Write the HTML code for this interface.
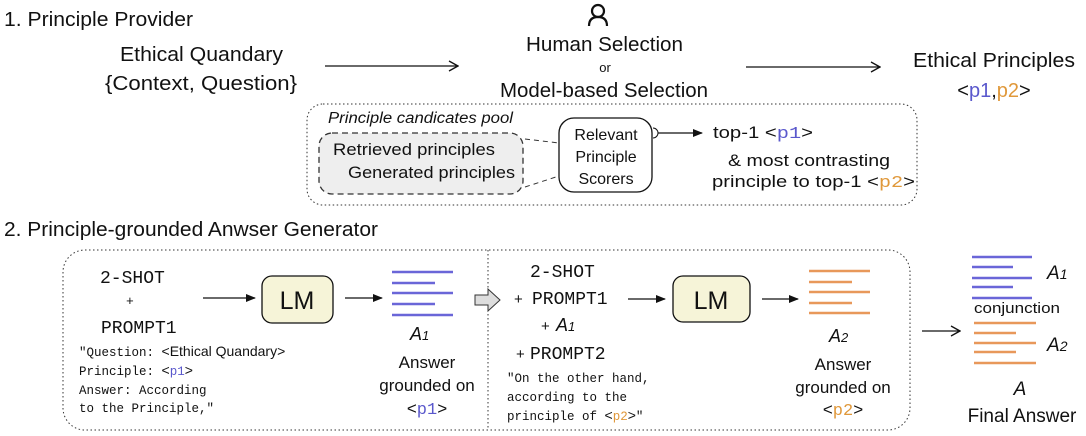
<!DOCTYPE html>
<html><head><meta charset="utf-8"><style>
body{margin:0;background:#fff}
svg{display:block}
text{font-family:"Liberation Sans",sans-serif;fill:#111}
.m{font-family:"Liberation Mono",monospace}
.b{fill:#5a58cc}.o{fill:#e0983a}
</style></head><body>
<svg width="1086" height="436" viewBox="0 0 1086 436">
<defs>
<marker id="ah" markerWidth="10" markerHeight="8" refX="9" refY="4" orient="auto" markerUnits="userSpaceOnUse"><path d="M0,0 L10,4 L0,8 Z" fill="#111"/></marker>
<marker id="oh" markerWidth="12" markerHeight="12" refX="11" refY="6" orient="auto" markerUnits="userSpaceOnUse"><path d="M2,1 L11,6 L2,11" fill="none" stroke="#111" stroke-width="1.3"/></marker>
</defs>
<text x="4" y="26" font-size="20" textLength="189" lengthAdjust="spacingAndGlyphs">1. Principle Provider</text>
<text x="120" y="61" font-size="20" textLength="163" lengthAdjust="spacingAndGlyphs">Ethical Quandary</text>
<text x="105" y="90" font-size="20" textLength="192" lengthAdjust="spacingAndGlyphs">{Context, Question}</text>
<line x1="325" y1="66" x2="458" y2="66" stroke="#111" stroke-width="1.3" marker-end="url(#oh)"/>
<circle cx="598" cy="11" r="6" fill="none" stroke="#111" stroke-width="2.2"/>
<path d="M589,26 Q589,17 598,17 Q607,17 607,26" fill="none" stroke="#111" stroke-width="2.2"/>
<text x="526" y="51" font-size="20" textLength="157" lengthAdjust="spacingAndGlyphs">Human Selection</text>
<text x="605" y="72" font-size="13" text-anchor="middle">or</text>
<text x="500" y="97" font-size="20" textLength="208" lengthAdjust="spacingAndGlyphs">Model-based Selection</text>
<line x1="746" y1="67" x2="880" y2="67" stroke="#111" stroke-width="1.3" marker-end="url(#oh)"/>
<text x="913" y="67" font-size="20" textLength="162" lengthAdjust="spacingAndGlyphs">Ethical Principles</text>
<text x="994" y="97" font-size="20" text-anchor="middle">&lt;<tspan class="b">p1</tspan>,<tspan class="o">p2</tspan>&gt;</text>

<rect x="307" y="104" width="610" height="101" rx="16" fill="none" stroke="#333" stroke-width="1" stroke-dasharray="1.5,2.5"/>
<text x="328" y="123" font-size="15.5" font-style="italic" textLength="185" lengthAdjust="spacingAndGlyphs">Principle candicates pool</text>
<rect x="319" y="133" width="204" height="61" rx="13" fill="#eee" stroke="#333" stroke-width="1.3" stroke-dasharray="6,4"/>
<text x="333" y="155" font-size="17" textLength="162" lengthAdjust="spacingAndGlyphs">Retrieved principles</text>
<text x="348" y="178" font-size="17" textLength="167" lengthAdjust="spacingAndGlyphs">Generated principles</text>
<line x1="525" y1="139" x2="559" y2="143" stroke="#333" stroke-dasharray="5,4"/>
<line x1="525" y1="187" x2="559" y2="176" stroke="#333" stroke-dasharray="5,4"/>
<rect x="559" y="118" width="93" height="74" rx="15" fill="#fff" stroke="#111" stroke-width="1.3"/>
<text x="606" y="140" font-size="16" text-anchor="middle">Relevant</text>
<text x="606" y="162" font-size="16" text-anchor="middle">Principle</text>
<text x="606" y="184" font-size="16" text-anchor="middle">Scorers</text>
<path d="M653,128 A5,5 0 0 1 653,138" fill="none" stroke="#111"/>
<line x1="658" y1="133" x2="702" y2="133" stroke="#111" stroke-width="1.3" marker-end="url(#ah)"/>
<text x="713" y="138" font-size="17" textLength="100" lengthAdjust="spacingAndGlyphs">top-1 &lt;<tspan class="m b">p1</tspan>&gt;</text>
<text x="728" y="166" font-size="17" textLength="162" lengthAdjust="spacingAndGlyphs">&amp; most contrasting</text>
<text x="712" y="187" font-size="17" textLength="203" lengthAdjust="spacingAndGlyphs">principle to top-1 &lt;<tspan class="m o">p2</tspan>&gt;</text>

<text x="4" y="236" font-size="20" textLength="374" lengthAdjust="spacingAndGlyphs">2. Principle-grounded Anwser Generator</text>
<rect x="63" y="250" width="847" height="180" rx="22" fill="none" stroke="#333" stroke-width="1" stroke-dasharray="1.5,2.5"/>
<line x1="488" y1="250" x2="488" y2="430" stroke="#333" stroke-dasharray="1.5,2.5"/>

<text class="m" x="100" y="283" font-size="18">2-SHOT</text>
<text class="m" x="126" y="305" font-size="13">+</text>
<text class="m" x="101" y="333" font-size="18">PROMPT1</text>
<text class="m" x="79" y="356" font-size="12.5">"Question: <tspan font-family="Liberation Sans" font-size="14">&lt;Ethical Quandary&gt;</tspan></text>
<text class="m" x="79" y="375" font-size="12.5">Principle: <tspan font-family="Liberation Sans" font-size="14">&lt;</tspan><tspan class="b">p1</tspan><tspan font-family="Liberation Sans" font-size="14">&gt;</tspan></text>
<text class="m" x="79" y="394" font-size="12.5">Answer: According</text>
<text class="m" x="79" y="412" font-size="12.5">to the Principle,"</text>
<line x1="203" y1="298" x2="255" y2="298" stroke="#111" stroke-width="1.3" marker-end="url(#ah)"/>
<rect x="262" y="276" width="71" height="47" rx="10" fill="#f6f4d8" stroke="#111" stroke-width="1.3"/>
<text x="297" y="309" font-size="25" text-anchor="middle">LM</text>
<line x1="345" y1="298" x2="382" y2="298" stroke="#111" stroke-width="1.3" marker-end="url(#ah)"/>
<g stroke="#6a66d8" stroke-width="2.5">
<line x1="392" y1="272" x2="453" y2="272"/><line x1="392" y1="283" x2="435" y2="283"/><line x1="392" y1="293" x2="453" y2="293"/><line x1="392" y1="304" x2="435" y2="304"/><line x1="392" y1="315" x2="453" y2="315"/></g>
<text x="410" y="340" font-size="18" font-style="italic">A<tspan font-size="13">1</tspan></text>
<text x="427" y="368" font-size="17" text-anchor="middle">Answer</text>
<text x="427" y="391" font-size="17" text-anchor="middle">grounded on</text>
<text x="427" y="414" font-size="17" text-anchor="middle">&lt;<tspan class="m b">p1</tspan>&gt;</text>
<path d="M475,295 L488,295 L488,289 L500,300 L488,311 L488,305 L475,305 Z" fill="#ddd" stroke="#333"/>

<text class="m" x="530" y="277" font-size="18">2-SHOT</text>
<text x="514" y="304" font-size="15">+</text><text class="m" x="532" y="304" font-size="18">PROMPT1</text>
<text x="541" y="331" font-size="15">+</text><text x="556" y="331" font-style="italic" font-size="18">A<tspan font-size="13">1</tspan></text>
<text x="516" y="359" font-size="15">+</text><text class="m" x="530" y="359" font-size="18">PROMPT2</text>
<text class="m" x="507" y="382" font-size="12.5">"On the other hand,</text>
<text class="m" x="507" y="401" font-size="12.5">according to the</text>
<text class="m" x="507" y="420" font-size="12.5">principle of <tspan font-family="Liberation Sans" font-size="14">&lt;</tspan><tspan class="o">p2</tspan><tspan font-family="Liberation Sans" font-size="14">&gt;</tspan>"</text>
<line x1="628" y1="299" x2="665" y2="299" stroke="#111" stroke-width="1.3" marker-end="url(#ah)"/>
<rect x="673" y="276" width="77" height="46" rx="10" fill="#f6f4d8" stroke="#111" stroke-width="1.3"/>
<text x="711" y="309" font-size="25" text-anchor="middle">LM</text>
<line x1="762" y1="299" x2="798" y2="299" stroke="#111" stroke-width="1.3" marker-end="url(#ah)"/>
<g stroke="#e8985a" stroke-width="2.5">
<line x1="809" y1="271" x2="870" y2="271"/><line x1="809" y1="282" x2="852" y2="282"/><line x1="809" y1="292" x2="870" y2="292"/><line x1="809" y1="303" x2="852" y2="303"/><line x1="809" y1="313" x2="870" y2="313"/></g>
<text x="829" y="342" font-size="18" font-style="italic">A<tspan font-size="13">2</tspan></text>
<text x="843" y="370" font-size="17" text-anchor="middle">Answer</text>
<text x="843" y="393" font-size="17" text-anchor="middle">grounded on</text>
<text x="843" y="415" font-size="17" text-anchor="middle">&lt;<tspan class="m o">p2</tspan>&gt;</text>

<line x1="922" y1="331" x2="960" y2="331" stroke="#111" stroke-width="1.2" marker-end="url(#oh)"/>
<g stroke="#6a66d8" stroke-width="2.5">
<line x1="972" y1="257" x2="1032" y2="257"/><line x1="972" y1="267" x2="1013" y2="267"/><line x1="972" y1="278" x2="1032" y2="278"/><line x1="972" y1="287" x2="1013" y2="287"/><line x1="972" y1="298" x2="1032" y2="298"/></g>
<text x="1047" y="279" font-size="19" font-style="italic">A<tspan font-size="14">1</tspan></text>
<text x="974" y="313" font-size="15" textLength="86" lengthAdjust="spacingAndGlyphs">conjunction</text>
<g stroke="#e8985a" stroke-width="2.5">
<line x1="974" y1="323" x2="1036" y2="323"/><line x1="974" y1="333" x2="1016" y2="333"/><line x1="974" y1="343" x2="1036" y2="343"/><line x1="974" y1="352" x2="1016" y2="352"/><line x1="974" y1="363" x2="1036" y2="363"/></g>
<text x="1047" y="351" font-size="19" font-style="italic">A<tspan font-size="14">2</tspan></text>
<text x="1020" y="395" font-size="19" font-style="italic" text-anchor="middle">A</text>
<text x="1022" y="422" font-size="19" text-anchor="middle">Final Answer</text>
</svg>
</body></html>
